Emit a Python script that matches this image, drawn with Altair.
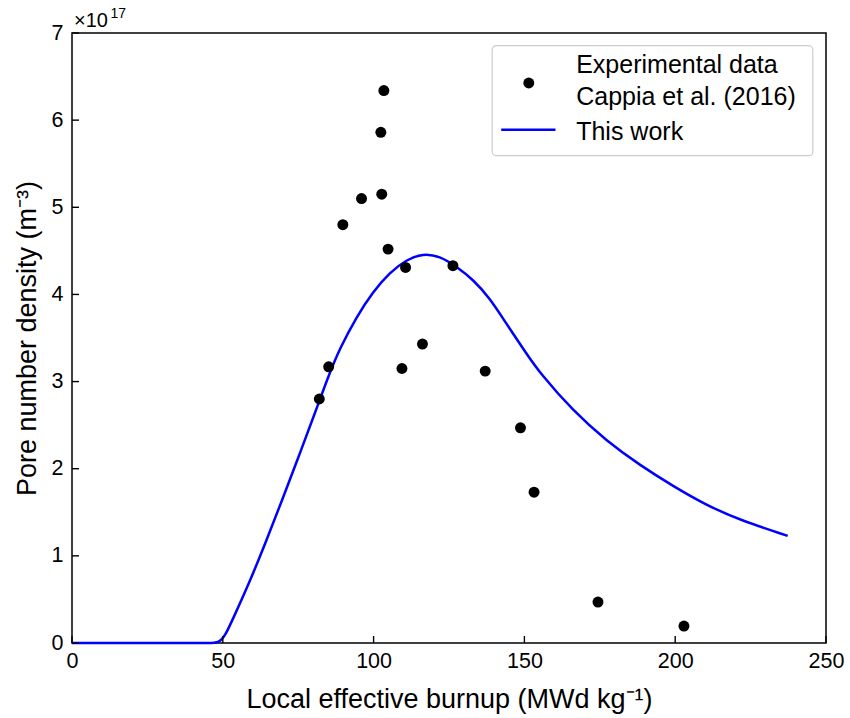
import altair as alt
import pandas as pd

# Experimental data (Cappia et al. 2016)
exp_x = [82.0, 85.1, 89.8, 96.0, 102.4, 103.4, 102.7, 104.8, 110.6, 109.4, 116.2, 126.3, 137.0, 148.7, 153.2, 174.4, 202.9]
exp_y = [2.80, 3.17, 4.80, 5.10, 5.86, 6.34, 5.15, 4.52, 4.31, 3.15, 3.43, 4.33, 3.12, 2.47, 1.73, 0.47, 0.195]

# Model curve (This work)
curve_x = [0, 10, 20, 30, 40, 45, 48.9, 51.0, 53.4, 58.9, 64.4, 69.9, 75.5, 81.0, 85.2, 88.8, 94.3, 99.8,
           105.3, 110.9, 116.4, 121.9, 127.5, 133.0, 138.5, 144.1, 150.7, 155.1, 166.2, 177.2, 188.3,
           199.3, 210.4, 221.5, 237.3]
curve_y = [0, 0, 0, 0, 0, 0, 0, 0.10, 0.28, 0.70, 1.17, 1.66, 2.17, 2.68, 3.08, 3.38, 3.74, 4.03,
           4.25, 4.40, 4.47, 4.44, 4.32, 4.17, 3.96, 3.66, 3.32, 3.10, 2.66, 2.32, 2.04,
           1.80, 1.58, 1.41, 1.23]

x_ticks = [0, 50, 100, 150, 200, 250]
y_ticks = [0, 1, 2, 3, 4, 5, 6, 7]

FONT = "Liberation Sans"
W, H = 754, 610
X_MAX, Y_MAX = 250, 7
TICK_PX = 7

exp_df = pd.DataFrame({"burnup": exp_x, "density": exp_y})
curve_df = pd.DataFrame({"burnup": curve_x, "density": curve_y})
# inward tick marks (lengths converted from pixels to data units)
xt_df = pd.DataFrame({"burnup": x_ticks, "density": [0.0] * len(x_ticks),
                      "density_end": [TICK_PX * Y_MAX / H] * len(x_ticks)})
yt_df = pd.DataFrame({"density": y_ticks, "burnup": [0.0] * len(y_ticks),
                      "burnup_end": [TICK_PX * X_MAX / W] * len(y_ticks)})
one = pd.DataFrame({"k": [0]})

xscale = alt.Scale(domain=[0, X_MAX], nice=False, zero=False)
yscale = alt.Scale(domain=[0, Y_MAX], nice=False, zero=False)

xaxis = alt.Axis(values=x_ticks, format="d", tickSize=0, domain=False, grid=False, labelFontSize=21.5,
                 labelFont=FONT, labelColor="black", labelPadding=7, labelFlush=False,
                 title="Local effective burnup (MWd kg\u207b\u00b9)", titleFont=FONT,
                 titleFontSize=27, titleFontWeight="normal", titleColor="black", titlePadding=15)
yaxis = alt.Axis(values=y_ticks, format="d", tickSize=0, domain=False, grid=False, labelFontSize=21.5,
                 labelFont=FONT, labelColor="black", labelPadding=9, labelFlush=False,
                 title="Pore number density (m\u207b\u00b3)", titleFont=FONT,
                 titleFontSize=27, titleFontWeight="normal", titleColor="black", titlePadding=10)

curve = alt.Chart(curve_df).mark_line(color="#0000ff", strokeWidth=2.5, interpolate="basis").encode(
    x=alt.X("burnup:Q", scale=xscale, axis=xaxis),
    y=alt.Y("density:Q", scale=yscale, axis=yaxis),
)

points = alt.Chart(exp_df).mark_circle(color="black", opacity=1, size=120).encode(
    x=alt.X("burnup:Q", scale=xscale),
    y=alt.Y("density:Q", scale=yscale),
)

xticks = alt.Chart(xt_df).mark_rule(color="black", strokeWidth=1.4).encode(
    x=alt.X("burnup:Q", scale=xscale),
    y=alt.Y("density:Q", scale=yscale),
    y2="density_end:Q",
)
yticks = alt.Chart(yt_df).mark_rule(color="black", strokeWidth=1.4).encode(
    y=alt.Y("density:Q", scale=yscale),
    x=alt.X("burnup:Q", scale=xscale),
    x2="burnup_end:Q",
)

# legend
leg_box = alt.Chart(one).mark_rect(fill="white", stroke="#cccccc", strokeWidth=1.2, cornerRadius=4).encode(
    x=alt.value(420.2), x2=alt.value(740.8), y=alt.value(12.7), y2=alt.value(122.7))
leg_pt = alt.Chart(one).mark_circle(color="black", opacity=1, size=120).encode(
    x=alt.value(456.8), y=alt.value(50))
leg_line = alt.Chart(one).mark_rule(color="#0000ff", strokeWidth=2.5).encode(
    x=alt.value(429.2), x2=alt.value(483.5), y=alt.value(96.7))


def txt(s, x, yb, size, align="left"):
    return alt.Chart(one).mark_text(text=s, font=FONT, fontSize=size, align=align,
                                    baseline="alphabetic", color="black").encode(
        x=alt.value(x), y=alt.value(yb))


chart = alt.layer(
    curve, points, xticks, yticks, leg_box, leg_pt, leg_line,
    txt("Experimental data", 504.2, 40, 25), txt("Cappia et al. (2016)", 504.2, 71.7, 25),
    txt("This work", 504.2, 106.7, 25),
    txt("\u00d710", 2, -6.3, 20), txt("17", 38.5, -15, 14),
).properties(
    width=W, height=H,
    padding={"left": 72, "top": 33, "right": 24, "bottom": 75},
    autosize=alt.AutoSizeParams(type="none"),
    background="white",
).configure_view(stroke="black", strokeWidth=1.5)

chart.save("out.html", embed_options={"renderer": "svg", "actions": False})
